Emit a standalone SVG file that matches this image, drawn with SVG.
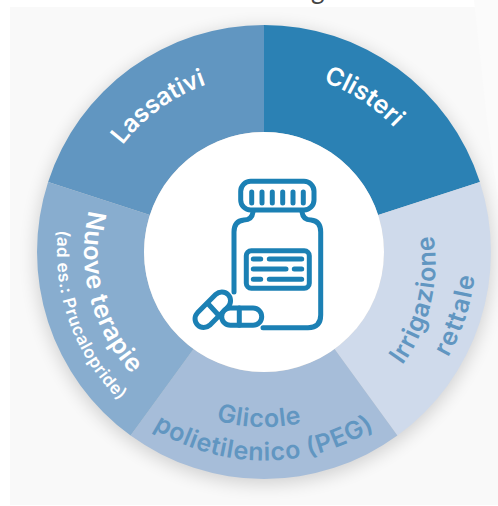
<svg xmlns="http://www.w3.org/2000/svg" width="498" height="506" viewBox="0 0 498 506">
<defs>
<style>
.lab{font-family:"Inter","Open Sans","Liberation Sans",sans-serif;font-weight:600}
.w{fill:#fff}.b{fill:#6196c1}
.ic{fill:none;stroke:#1b80b4;stroke-width:5;stroke-linecap:round;stroke-linejoin:round}
.icf{fill:#fff;stroke:#1b80b4;stroke-width:5;stroke-linejoin:round}
</style>
<filter id="sh" x="-20%" y="-20%" width="140%" height="140%"><feGaussianBlur stdDeviation="9"/></filter>
<path id="a1" d="M95.600 197.300A177 177 0 0 1 264 75"/>
<path id="a2" d="M264 72A180 180 0 0 1 435.200 196.400"/>
<path id="a3a" d="M370.600 398.500A173 173 0 0 0 424.600 203"/>
<path id="a3b" d="M388.700 423.600A212 212 0 0 0 465.600 186.500"/>
<path id="a4a" d="M161.100 393.600A175 175 0 0 0 366.900 393.600"/>
<path id="a4b" d="M141.700 420.800A208 208 0 0 0 386.300 420.800"/>
<path id="a5a" d="M92.800 196.400A180 180 0 0 0 158.200 397.600"/>
<path id="a5b" d="M67.100 188A207 207 0 0 0 142.300 419.500"/>
</defs>
<rect width="498" height="506" fill="#fff"/>
<rect x="10" y="7" width="488" height="498" fill="#f9f9f9"/>
<polygon points="474,0 498,0 498,200 487,120" fill="#fbfbfb"/>
<text x="311" y="-1" font-family="Lato,sans-serif" font-size="26" fill="#444">g</text>
<circle cx="264" cy="256" r="228" fill="#000" opacity=".16" filter="url(#sh)"/>
<g id="node-clisteri">
<path d="M264 25A227 227 0 0 1 479.900 181.900L378.100 215A120 120 0 0 0 264 132Z" fill="#2b81b4"/>
<text class="lab w" font-size="25"><textPath href="#a2" startOffset="45.500%" text-anchor="middle">Clisteri</textPath></text>
</g>
<g id="node-lassativi">
<path d="M264 25A227 227 0 0 0 48.100 181.900L149.900 215A120 120 0 0 1 264 132Z" fill="#6196c1"/>
<text class="lab w" font-size="24.500"><textPath href="#a1" startOffset="50%" text-anchor="middle">Lassativi</textPath></text>
</g>
<g id="node-irrigazione">
<path d="M479.900 181.900A227 227 0 0 1 397.400 435.600L334.500 349.100A120 120 0 0 0 378.100 215Z" fill="#cfdaeb"/>
<text class="lab b" font-size="25" letter-spacing=".7"><textPath href="#a3a" startOffset="53%" text-anchor="middle">Irrigazione</textPath></text>
<text class="lab b" font-size="25" letter-spacing="1.500"><textPath href="#a3b" startOffset="50%" text-anchor="middle">rettale</textPath></text>
</g>
<g id="node-glicole">
<path d="M397.400 435.600A227 227 0 0 1 130.600 435.600L193.500 349.100A120 120 0 0 0 334.500 349.100Z" fill="#a6bdd9"/>
<text class="lab b" font-size="25" letter-spacing=".6"><textPath href="#a4a" startOffset="47.700%" text-anchor="middle">Glicole</textPath></text>
<text class="lab b" font-size="25" letter-spacing=".6"><textPath href="#a4b" startOffset="50%" text-anchor="middle">polietilenico (PEG)</textPath></text>
</g>
<g id="node-nuove">
<path d="M130.600 435.600A227 227 0 0 1 48.100 181.900L149.900 215A120 120 0 0 0 193.500 349.100Z" fill="#88adcf"/>
<text class="lab w" font-size="25" letter-spacing=".6"><textPath href="#a5a" startOffset="45.500%" text-anchor="middle">Nuove terapie</textPath></text>
<text class="lab w" font-size="17" letter-spacing=".5"><textPath href="#a5b" startOffset="52.700%" text-anchor="middle">(ad es.: Prucalopride)</textPath></text>
</g>
<g id="node-center">
<circle cx="264" cy="252" r="120" fill="#fff"/>
<rect class="ic" x="240.700" y="181.300" width="73.300" height="28.700" rx="10"/>
<path class="ic" d="M251.700 192V203M262 192V203M272.300 192V203M282.700 192V203M293 192V203M303.300 192V203"/>
<path class="ic" d="M253 212Q252 220 244 220Q234 221 234 232V292M302 212Q303 220 311 220Q320.700 221 320.700 232V315Q320.700 327.700 308 327.700H263"/>
<rect class="ic" x="246.300" y="250.700" width="63" height="37.600" rx="5"/>
<path class="ic" d="M253.300 259H260.700M269.300 259H301.700M253.300 269H286M294.300 269H301.700M253.300 279.300H260.700M269.300 279.300H301.700"/>
<path class="icf" d="M197.450 312.850L215.850 294.350A8.700 8.700 0 0 1 228.150 306.650L209.750 325.150A8.700 8.700 0 0 1 197.450 312.850Z"/>
<path class="ic" d="M208.300 304L220 316.700"/>
<rect class="icf" x="221.700" y="308" width="40" height="17.300" rx="8.650"/>
<path class="ic" d="M239.300 308V325.300"/>
</g>
</svg>
